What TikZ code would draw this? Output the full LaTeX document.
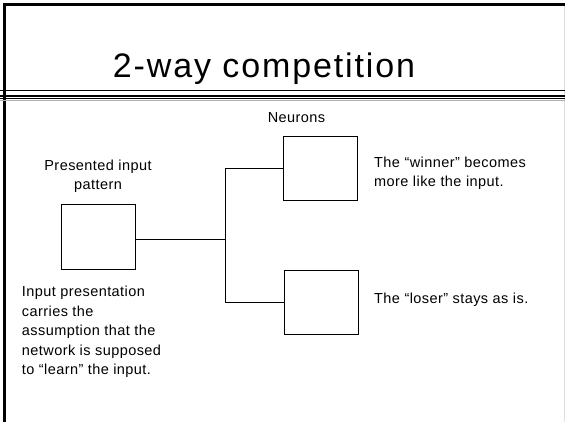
\documentclass[tikz,border=0pt]{standalone}
\usepackage{fontspec}
\setmainfont{Liberation Sans}
\begin{document}
\begin{tikzpicture}[x=1pt,y=-1pt,
  box/.style={draw=black,line width=1pt,minimum width=74pt,minimum height=64pt,inner sep=0pt},
  wire/.style={draw=black,line width=1pt},
  body/.style={inner sep=0pt,font=\fontsize{14.5}{19.5}\selectfont\addfontfeature{LetterSpace=3}},
  ttl/.style={inner sep=0pt,font=\fontsize{34}{40}\selectfont\addfontfeature{LetterSpace=5.5}}]
\useasboundingbox (0,0) rectangle (565,422);
% frame
\draw[line width=3pt] (4.5,3) -- (4.5,422);
\draw[line width=3pt] (3,4.5) -- (565,4.5);
\draw[gray!25,line width=1pt] (564,6) -- (564,422);
% title rules
\draw[line width=1pt] (0,91) -- (565,91);
\draw[line width=2pt] (0,95.7) -- (565,95.7);
\draw[line width=1pt] (0,98.3) -- (565,98.3);
\draw[gray!60,line width=1.3pt] (0,100.6) -- (565,100.6);
% title
\node[ttl,anchor=base] (title) at (264,77.7) {2-way competition};
% boxes
\node[box] (in) at (98.3,237) {};
\node[box] (n1) at (320.5,168.8) {};
\node[box] (n2) at (321.5,302) {};
\coordinate (j) at (225.5,240);
\draw[wire] (in.east |- j) -- (j);
\draw[wire] (n1.west) -- (n1.west -| j) -- (n2.west -| j) -- (n2.west);
% texts
\node[body,anchor=base] (neur) at (296.5,123) {Neurons};
\node[body,anchor=north,align=center] (pip) at (98,159.3) {Presented input\\pattern};
\node[body,anchor=north west,align=left] (win) at (374,156.7) {The “winner” becomes\\more like the input.};
\node[body,anchor=north west,align=left] (los) at (374,293) {The “loser” stays as is.};
\node[body,anchor=north west,align=left] (ipt) at (21.7,286) {Input presentation\\carries the\\assumption that the\\network is supposed\\to “learn” the input.};
\end{tikzpicture}
\end{document}
